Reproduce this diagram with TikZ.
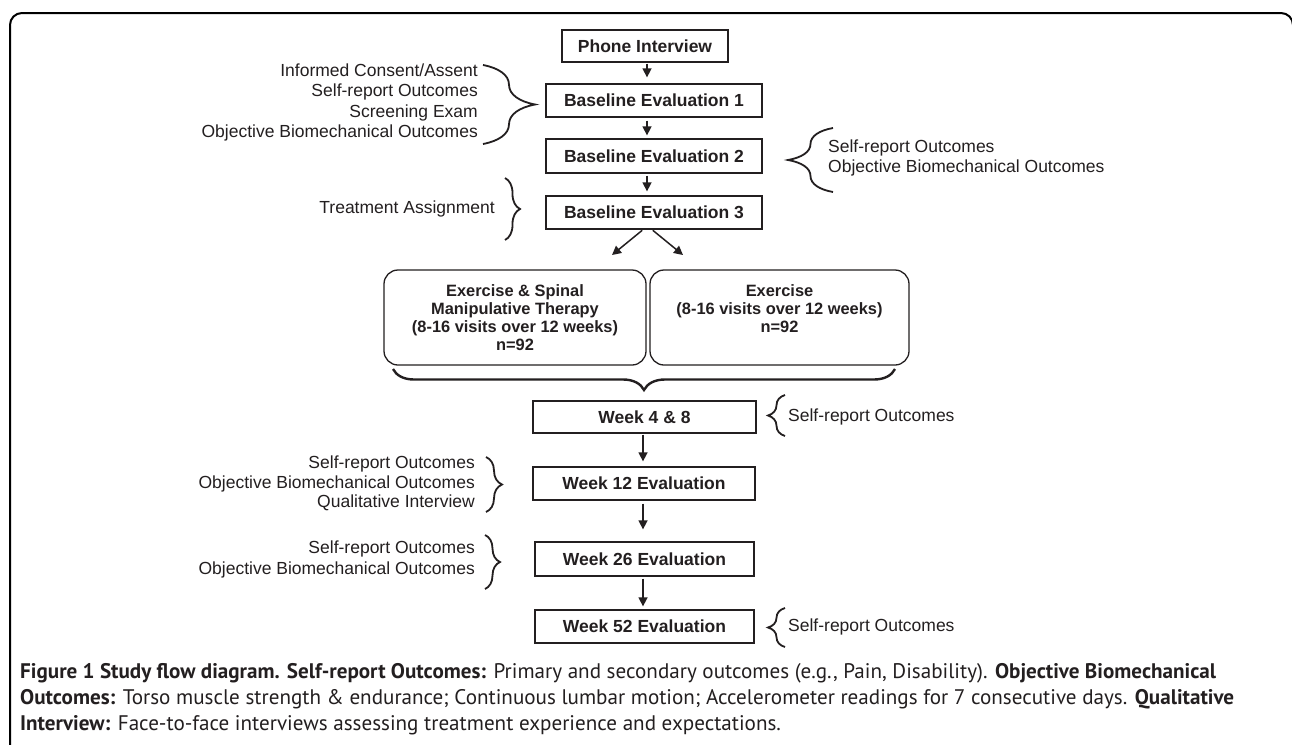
\documentclass[tikz,border=0pt]{standalone}
\usepackage{fontspec}
\setmainfont{Liberation Sans}
\newfontfamily\capfont{PT Sans}
\usetikzlibrary{arrows.meta,decorations.pathreplacing,calc}
\definecolor{ink}{HTML}{231F20}
\begin{document}
\begin{tikzpicture}[x=1pt,y=-1pt,
  box/.style={draw=ink,line width=1.3pt,text=ink,font=\fontsize{17.5}{20}\selectfont\bfseries,inner sep=0pt},
  tbox/.style={draw=ink,line width=1.3pt,rounded corners=14pt,text=ink,align=center,font=\fontsize{16.4}{18}\selectfont\bfseries,inner sep=0pt},
  note/.style={text=ink,font=\fontsize{17.5}{20.5}\selectfont,inner sep=0pt},
  arr/.style={draw=ink,line width=1.5pt,-{Triangle[length=9pt,width=9pt]}},
  brc/.style={draw=ink,line width=1.8pt,decorate,decoration={brace,amplitude=#1}},
  capt/.style={text=ink,font=\capfont\fontsize{21.1}{26}\selectfont,inner sep=0pt,anchor=base west}
]
\useasboundingbox (0,0) rectangle (1292,744);
\fill[white] (0,0) rectangle (1292,744);
% frame
\draw[black,line width=2pt,rounded corners=12pt] (10,770) -- (10,13) -- (1293,13) -- (1293,770);

% main boxes
\node[box,minimum width=166pt,minimum height=32pt] (ph) at (645,46) {Phone Interview};
\node[box,minimum width=216pt,minimum height=33pt] (b1) at (654,100.5) {Baseline Evaluation 1};
\node[box,minimum width=216pt,minimum height=34pt] (b2) at (654,156) {Baseline Evaluation 2};
\node[box,minimum width=216pt,minimum height=33pt] (b3) at (654,212.5) {Baseline Evaluation 3};

\node[tbox,minimum width=262pt,minimum height=95pt] (t1) at (515,317.5) {Exercise \& Spinal\\Manipulative Therapy\\(8-16 visits over 12 weeks)\\n=92};
\node[tbox,minimum width=259pt,minimum height=95pt] (t2) at (779.5,317.5) {Exercise\\(8-16 visits over 12 weeks)\\n=92\\\mbox{}};

\node[box,minimum width=223pt,minimum height=32pt] (w4) at (644.5,417) {Week 4 \& 8};
\node[box,minimum width=222pt,minimum height=33pt] (w12) at (644,483.5) {Week 12 Evaluation};
\node[box,minimum width=219pt,minimum height=34pt] (w26) at (644.5,559) {Week 26 Evaluation};
\node[box,minimum width=219pt,minimum height=33pt] (w52) at (644.5,626.5) {Week 52 Evaluation};

% arrows
\draw[arr,shorten <=1pt,shorten >=6pt] ([xshift=2pt]ph.south) -- ([xshift=2pt]ph.south |- b1.north);
\draw[arr,shorten <=3pt,shorten >=3pt] ([xshift=-7pt]b1.south) -- ([xshift=-7pt]b2.north);
\draw[arr,shorten <=2pt,shorten >=4pt] ([xshift=-7pt]b2.south) -- ([xshift=-7pt]b3.north);
\coordinate (tl) at (612,255);
\coordinate (tr) at (683,255);
\draw[arr,shorten <=1pt] ([xshift=-11pt]b3.south) -- (tl);
\draw[arr,shorten <=1pt] ([xshift=-2pt]b3.south) -- (tr);
\draw[arr,shorten <=1pt,shorten >=5pt] ([xshift=-1.5pt]w4.south) -- ([xshift=-1.5pt]w4.south |- w12.north);
\draw[arr,shorten <=3pt,shorten >=12pt] ([xshift=-1pt]w12.south) -- ([xshift=-1pt]w12.south |- w26.north);
\draw[arr,shorten <=2pt,shorten >=3pt] ([xshift=-1.5pt]w26.south) -- ([xshift=-1.5pt]w26.south |- w52.north);

% braces
\draw[brc=52pt] (483,65) -- (483,144);
\draw[brc=15pt] (505,178) -- (505,240);
\draw[brc=45pt] (833,192) -- (833,128);
\draw[brc=21pt,line width=2.4pt] (895,369) -- (393,369);
\draw[brc=17pt] (785,436) -- (785,395);
\draw[brc=16pt] (486,457) -- (486,512);
\draw[brc=15pt] (485,535) -- (485,589);
\draw[brc=17pt] (785,647) -- (785,608);

% notes
\node[note,align=right,anchor=east] (n1) at (478,102.5) {Informed Consent/Assent\\Self-report Outcomes\\Screening Exam\\Objective Biomechanical Outcomes};
\node[note,anchor=east] (n2) at (495,209) {Treatment Assignment};
\node[note,align=left,anchor=west] (n3) at (828,158) {Self-report Outcomes\\Objective Biomechanical Outcomes};
\node[note,anchor=west] (n4) at (788,417) {Self-report Outcomes};
\node[note,align=right,anchor=east,font=\fontsize{17.5}{19.5}\selectfont] (n5) at (475,483.5) {Self-report Outcomes\\Objective Biomechanical Outcomes\\Qualitative Interview};
\node[note,align=right,anchor=east,font=\fontsize{17.5}{21}\selectfont] (n6) at (475,559.5) {Self-report Outcomes\\Objective Biomechanical Outcomes};
\node[note,anchor=west] (n7) at (788,627) {Self-report Outcomes};

% caption
\node[capt] (c1) at (20,678) {\textbf{Figure 1 Study flow diagram. Self-report Outcomes:} Primary and secondary outcomes (e.g., Pain, Disability). \textbf{Objective Biomechanical}};
\node[capt] (c2) at (20,704) {\textbf{Outcomes:} Torso muscle strength \& endurance; Continuous lumbar motion; Accelerometer readings for 7 consecutive days. \textbf{Qualitative}};
\node[capt] (c3) at (20,730) {\textbf{Interview:} Face-to-face interviews assessing treatment experience and expectations.};
\end{tikzpicture}
\end{document}
